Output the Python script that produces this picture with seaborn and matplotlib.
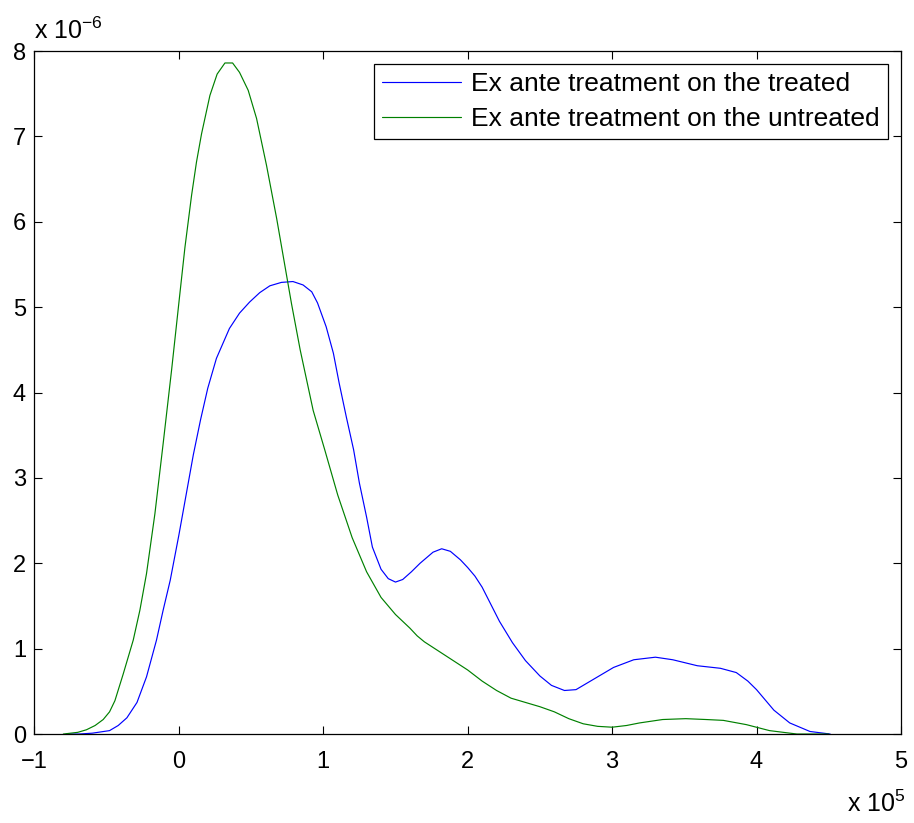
import pandas as pd
import matplotlib
matplotlib.use("Agg")
import matplotlib.pyplot as plt
import seaborn as sns

# values, x in units of 1e5, density in units of 1e-6
treated_x = [-0.78, -0.69, -0.60, -0.48, -0.42, -0.36, -0.29, -0.224, -0.155, -0.109,
             -0.06, 0.00, 0.05, 0.10, 0.15, 0.20, 0.26, 0.35, 0.42, 0.49,
             0.56, 0.63, 0.71, 0.79, 0.86, 0.92, 0.96, 1.02, 1.07, 1.11,
             1.16, 1.21, 1.25, 1.30, 1.34, 1.40, 1.45, 1.50, 1.55, 1.61,
             1.67, 1.76, 1.82, 1.88, 1.95, 2.00, 2.05, 2.10, 2.16, 2.22,
             2.31, 2.40, 2.50, 2.58, 2.67, 2.75, 2.85, 3.01, 3.15, 3.30,
             3.42, 3.59, 3.75, 3.86, 3.94, 4.00, 4.12, 4.23, 4.37, 4.51]
treated_y = [0.00, 0.00, 0.01, 0.04, 0.10, 0.19, 0.37, 0.67, 1.10, 1.45,
             1.80, 2.33, 2.80, 3.27, 3.68, 4.05, 4.40, 4.75, 4.93, 5.06,
             5.17, 5.25, 5.29, 5.30, 5.26, 5.18, 5.05, 4.77, 4.46, 4.11,
             3.71, 3.33, 2.94, 2.54, 2.19, 1.93, 1.82, 1.78, 1.81, 1.90,
             2.00, 2.13, 2.17, 2.14, 2.04, 1.95, 1.85, 1.72, 1.52, 1.32,
             1.07, 0.86, 0.68, 0.57, 0.51, 0.52, 0.62, 0.78, 0.87, 0.90,
             0.87, 0.80, 0.77, 0.72, 0.62, 0.52, 0.28, 0.13, 0.03, 0.00]

untreated_x = [-0.80, -0.70, -0.64, -0.58, -0.524, -0.48, -0.443, -0.386, -0.316, -0.27,
               -0.224, -0.166, -0.109, -0.05, 0.00, 0.042, 0.088, 0.122, 0.157, 0.215,
               0.265, 0.319, 0.372, 0.42, 0.48, 0.538, 0.607, 0.677, 0.746, 0.78,
               0.84, 0.93, 1.01, 1.10, 1.20, 1.30, 1.40, 1.50, 1.60, 1.65,
               1.70, 1.80, 1.90, 2.00, 2.10, 2.20, 2.30, 2.40, 2.50, 2.60,
               2.70, 2.80, 2.90, 3.00, 3.10, 3.19, 3.35, 3.51, 3.65, 3.77,
               3.93, 4.09, 4.28, 4.50]
untreated_y = [0.00, 0.02, 0.05, 0.10, 0.17, 0.26, 0.39, 0.70, 1.10, 1.45,
               1.88, 2.58, 3.40, 4.27, 5.05, 5.70, 6.31, 6.70, 7.03, 7.48,
               7.73, 7.86, 7.86, 7.75, 7.54, 7.21, 6.66, 6.04, 5.37, 5.04,
               4.50, 3.79, 3.33, 2.80, 2.30, 1.90, 1.60, 1.40, 1.24, 1.15,
               1.08, 0.97, 0.86, 0.75, 0.62, 0.51, 0.42, 0.37, 0.32, 0.26,
               0.18, 0.12, 0.09, 0.08, 0.10, 0.13, 0.17, 0.18, 0.17, 0.16,
               0.11, 0.04, 0.00, 0.00]

labels = ["Ex ante treatment on the treated", "Ex ante treatment on the untreated"]
x_ticks = [-1, 0, 1, 2, 3, 4, 5]
y_ticks = [0, 1, 2, 3, 4, 5, 6, 7, 8]

df = pd.concat([
    pd.DataFrame({"x": treated_x, "density": treated_y, "series": labels[0]}),
    pd.DataFrame({"x": untreated_x, "density": untreated_y, "series": labels[1]}),
])

sns.set_style("ticks")
plt.rcParams["font.family"] = ["Liberation Sans", "DejaVu Sans"]
plt.rcParams["mathtext.default"] = "regular"
plt.rcParams["font.size"] = 17
plt.rcParams["text.color"] = "black"
plt.rcParams["xtick.color"] = "black"
plt.rcParams["ytick.color"] = "black"
plt.rcParams["axes.edgecolor"] = "black"
plt.rcParams["axes.linewidth"] = 0.9
plt.rcParams["xtick.direction"] = "in"
plt.rcParams["ytick.direction"] = "in"

fig = plt.figure(figsize=(9.14, 8.23), dpi=100)
ax = fig.add_axes([0.0377, 0.1081, 0.948, 0.8299])

sns.lineplot(
    data=df, x="x", y="density", hue="series",
    hue_order=labels,
    palette={labels[0]: "#0000ff", labels[1]: "#008000"},
    estimator=None, sort=False, linewidth=0.85, ax=ax
)

ax.set_xlim(-1, 5)
ax.set_ylim(0, 8)
ax.set_xticks(x_ticks)
ax.set_yticks(y_ticks)
ax.set_xlabel("")
ax.set_ylabel("")
ax.tick_params(axis="both", which="both", top=True, right=True,
               length=6, width=0.8, labelsize=17, colors="black")
ax.tick_params(axis="x", pad=12)
ax.tick_params(axis="y", pad=6)

ax.text(0.0, 1.018, r"x 10$^{-6}$", transform=ax.transAxes,
        ha="left", va="baseline", fontsize=18)
ax.text(1.005, -0.114, r"x 10$^{5}$", transform=ax.transAxes,
        ha="right", va="baseline", fontsize=18)

sns.move_legend(
    ax, "upper right", bbox_to_anchor=(0.985, 0.981), title=None,
    frameon=True, fancybox=False, framealpha=1, edgecolor="black",
    fontsize=19, handlelength=3.0, handletextpad=0.38,
    labelspacing=0.42, borderpad=0.3, borderaxespad=0
)
ax.get_legend().get_frame().set_linewidth(0.9)

plt.savefig("out.png", dpi=100)
